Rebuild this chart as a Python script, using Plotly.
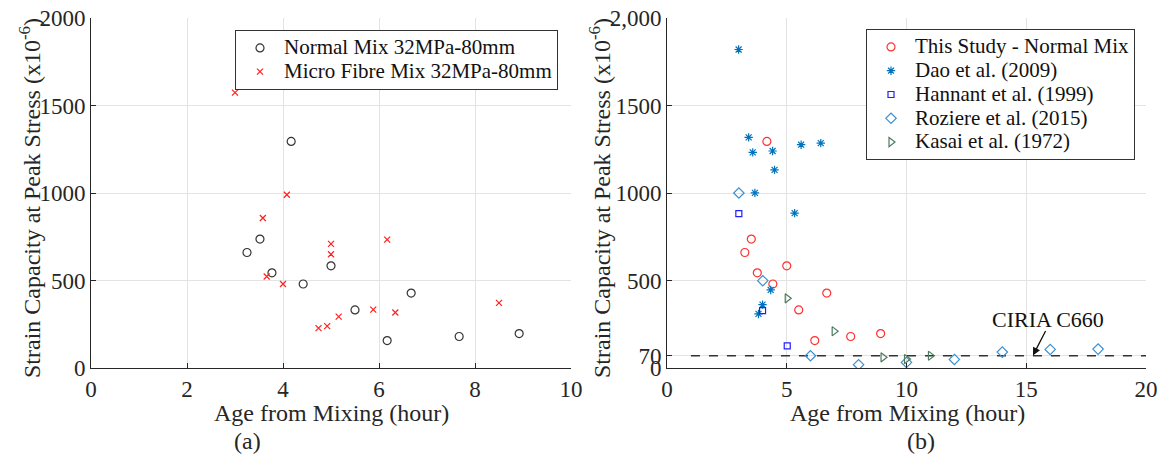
import plotly.graph_objects as go

# ---------------- data ----------------
# Panel (a)
normal_age = [3.25, 3.52, 3.77, 4.17, 4.42, 5.0, 5.5, 6.17, 6.67, 7.67, 8.92]
normal_strain = [660, 737, 544, 1295, 480, 584, 332, 157, 428, 180, 197]

fibre_age = [3.0, 3.58, 3.66, 4.0, 4.08, 4.74, 4.92, 5.0, 5.0, 5.16, 5.88, 6.17, 6.34, 8.5]
fibre_strain = [1574, 857, 523, 480, 990, 228, 239, 709, 650, 294, 334, 734, 317, 372]

# Panel (b)
dao_age = [2.99, 3.41, 3.58, 3.67, 3.82, 3.99, 4.33, 4.41, 4.49, 5.33, 5.60, 6.42]
dao_strain = [1820, 1318, 1232, 1001, 309, 362, 446, 1240, 1132, 885, 1276, 1285]

hannant_age = [3.0, 3.99, 5.02]
hannant_strain = [882, 328, 127]

roziere_age = [3.0, 4.0, 5.99, 8.0, 10.0, 12.0, 14.0, 16.0, 18.0]
roziere_strain = [1000, 499, 70, 19, 32, 49, 91, 106, 108]

kasai_age = [5.02, 6.98, 9.02, 10.0, 11.0]
kasai_strain = [398, 210, 61, 51, 70]

ciria_age = [1, 20]
ciria_strain = [70, 70]

a_xticks = [0, 2, 4, 6, 8, 10]
a_yticks = [0, 500, 1000, 1500, 2000]
b_xticks = [0, 5, 10, 15, 20]
b_yticks = [0, 70, 500, 1000, 1500, 2000]
b_yticktext = ["0", "70", "500", "1000", "1500", "2,000"]

# ---------------- figure ----------------
FONT = "Liberation Serif"
W, H = 1158, 457
fig = go.Figure()

def mk(symbol, color, size=8, width=1.2):
    return dict(symbol=symbol, size=size, color=color, line=dict(color=color, width=width))

def lg(name):
    return '<span style="font-size:21px">' + name + '</span>'

fig.add_trace(go.Scatter(x=normal_age, y=normal_strain, mode="markers", name=lg("Normal Mix 32MPa-80mm"),
                         marker=mk("circle-open", "#333333", 8), xaxis="x", yaxis="y", legend="legend"))
fig.add_trace(go.Scatter(x=fibre_age, y=fibre_strain, mode="markers", name=lg("Micro Fibre Mix 32MPa-80mm"),
                         marker=mk("x-thin-open", "#ff2020", 6), xaxis="x", yaxis="y", legend="legend"))

fig.add_trace(go.Scatter(x=ciria_age, y=ciria_strain, mode="lines", showlegend=False,
                         line=dict(color="#333333", width=1.5, dash="dash"), xaxis="x2", yaxis="y2"))
fig.add_trace(go.Scatter(x=normal_age, y=normal_strain, mode="markers", name=lg("This Study - Normal Mix"),
                         marker=mk("circle-open", "#ff3030", 8), xaxis="x2", yaxis="y2", legend="legend2"))
fig.add_trace(go.Scatter(x=dao_age, y=dao_strain, mode="markers", name=lg("Dao et al. (2009)"),
                         marker=mk("asterisk-open", "#0072BD", 7), xaxis="x2", yaxis="y2", legend="legend2"))
fig.add_trace(go.Scatter(x=hannant_age, y=hannant_strain, mode="markers", name=lg("Hannant et al. (1999)"),
                         marker=mk("square-open", "#2020ff", 6), xaxis="x2", yaxis="y2", legend="legend2"))
fig.add_trace(go.Scatter(x=roziere_age, y=roziere_strain, mode="markers", name=lg("Roziere et al. (2015)"),
                         marker=mk("diamond-open", "#3a8fd0", 8), xaxis="x2", yaxis="y2", legend="legend2"))
fig.add_trace(go.Scatter(x=kasai_age, y=kasai_strain, mode="markers", name=lg("Kasai et al. (1972)"),
                         marker=mk("triangle-right-open", "#4f7a62", 8), xaxis="x2", yaxis="y2", legend="legend2"))

axis_common = dict(showline=True, linecolor="#262626", linewidth=1, ticks="inside", ticklen=5,
                   tickcolor="#262626", showgrid=True, gridcolor="#e3e3e3", gridwidth=1,
                   zeroline=False, mirror=False, automargin=False,
                   tickfont=dict(family=FONT, size=23, color="#262626"))

xa = [91 / W, 571 / W]
xb = [667 / W, 1146 / W]
yd = [1 - 368 / H, 1 - 18 / H]

legend_common = dict(xanchor="left", yanchor="top", bgcolor="white", bordercolor="#333333", borderwidth=1,
                     font=dict(family=FONT, size=16, color="#111111"), tracegroupgap=0, itemwidth=38)

fig.update_layout(
    width=W, height=H, margin=dict(l=0, r=0, t=0, b=0, pad=0, autoexpand=False),
    paper_bgcolor="white", plot_bgcolor="white",
    font=dict(family=FONT, color="#262626"),
    xaxis=dict(domain=xa, range=[0, 10], tickvals=a_xticks, anchor="y", **axis_common),
    yaxis=dict(domain=yd, range=[0, 2000], tickvals=a_yticks, anchor="x", **axis_common),
    xaxis2=dict(domain=xb, range=[0, 20], tickvals=b_xticks, anchor="y2", **axis_common),
    yaxis2=dict(domain=yd, range=[0, 2000], tickvals=b_yticks, ticktext=b_yticktext, anchor="x2", **axis_common),
    legend=dict(x=235 / W, y=1 - 30 / H, **legend_common),
    legend2=dict(x=866 / W, y=1 - 29 / H, **legend_common),
    showlegend=True,
)

title_font = dict(family=FONT, size=24, color="#262626")
ann = [
    dict(text="Strain Capacity at Peak Stress (x10<sup>-6</sup>)", x=30 / W, y=1 - 198 / H, textangle=-90),
    dict(text="Strain Capacity at Peak Stress (x10<sup>-6</sup>)", x=600 / W, y=1 - 198 / H, textangle=-90),
    dict(text="Age from Mixing (hour)", x=331 / W, y=1 - 413 / H),
    dict(text="Age from Mixing (hour)", x=907 / W, y=1 - 413 / H),
    dict(text="(a)", x=247 / W, y=1 - 441 / H),
    dict(text="(b)", x=921 / W, y=1 - 441 / H),
]
for a in ann:
    fig.add_annotation(xref="paper", yref="paper", showarrow=False, xanchor="center", yanchor="middle",
                       font=title_font, **a)

fig.add_annotation(xref="x2", yref="y2", x=15.9, y=280, text="CIRIA C660", showarrow=False,
                   font=dict(family=FONT, size=22, color="#111111"))
fig.add_annotation(xref="x2", yref="y2", x=15.28, y=72, axref="x2", ayref="y2", ax=15.84, ay=220,
                   text="", showarrow=True, arrowhead=2, arrowsize=1.2, arrowwidth=1.3, arrowcolor="#111111")

fig.write_html("out.html", config={"displayModeBar": False},
               post_script="document.body.style.margin='0';document.body.style.overflow='hidden';")
